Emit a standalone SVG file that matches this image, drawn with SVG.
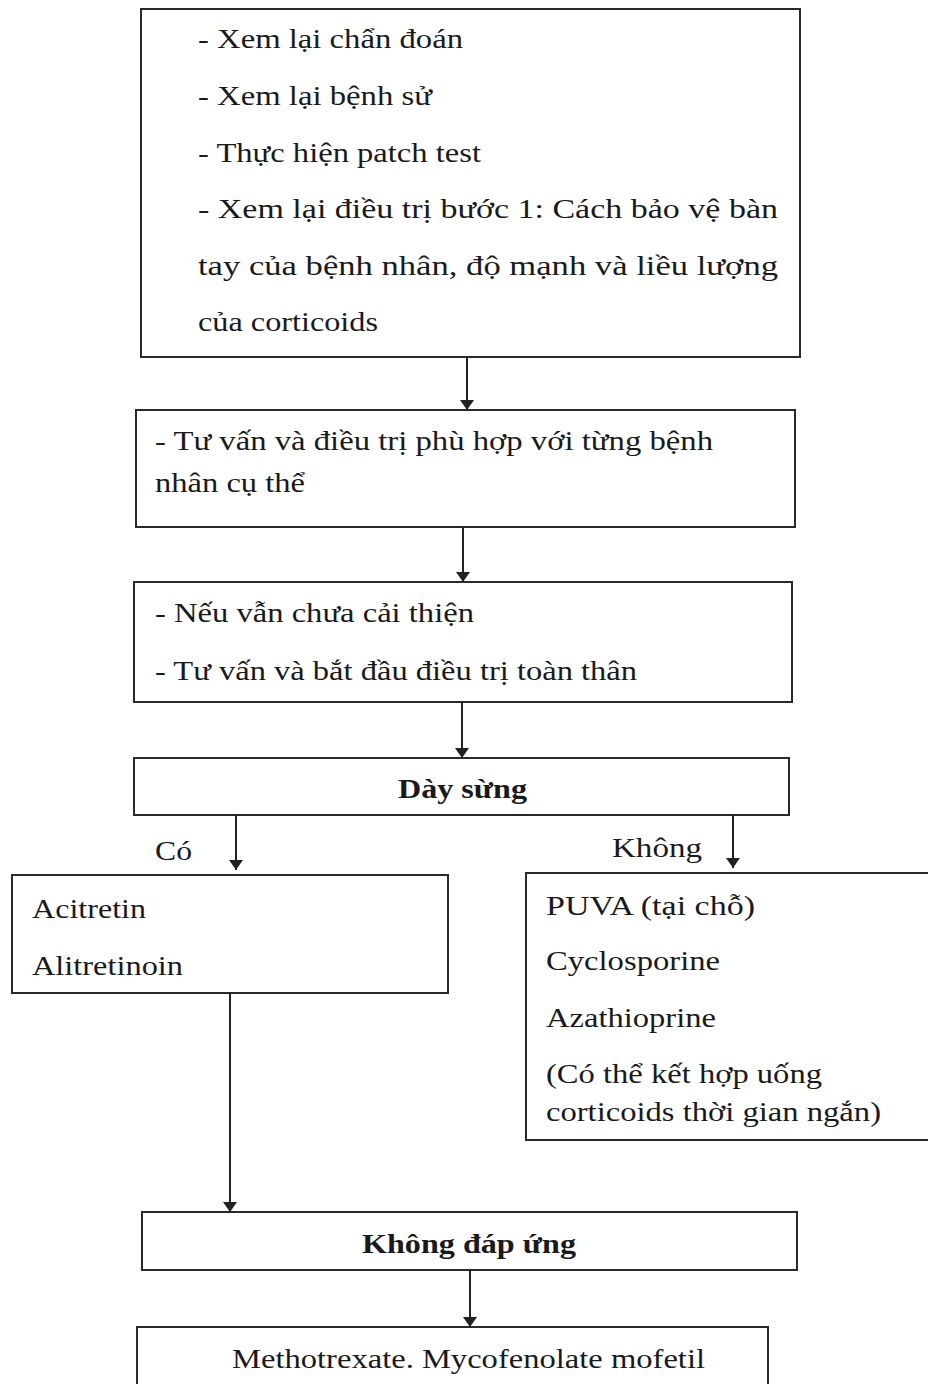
<svg xmlns="http://www.w3.org/2000/svg" width="928" height="1384" viewBox="0 0 928 1384">
<defs>
<marker id="ah" viewBox="0 0 10 14" markerWidth="10" markerHeight="14" refX="10" refY="7" orient="auto" markerUnits="userSpaceOnUse">
<path d="M0,0 L10,7 L0,14 Z" fill="#222"/>
</marker>
<style>
.box{fill:#fff;stroke:#2a2a2a;stroke-width:2}
.t{font-family:"Liberation Serif","Times New Roman",serif;font-size:27.5px;fill:#1a1a1a}
.b{font-weight:bold}
.c{stroke:#222;stroke-width:2;fill:none}
</style>
</defs>
<rect width="928" height="1384" fill="#fff"/>
<g id="n1">
<rect class="box" x="141" y="9" width="659" height="348"/>
<text class="t" x="198" y="48" textLength="265" lengthAdjust="spacingAndGlyphs">- Xem lại chẩn đoán</text>
<text class="t" x="198" y="105" textLength="234" lengthAdjust="spacingAndGlyphs">- Xem lại bệnh sử</text>
<text class="t" x="198" y="162" textLength="283" lengthAdjust="spacingAndGlyphs">- Thực hiện patch test</text>
<text class="t" x="198" y="218" textLength="580" lengthAdjust="spacingAndGlyphs">- Xem lại điều trị bước 1: Cách bảo vệ bàn</text>
<text class="t" x="198" y="275" textLength="580" lengthAdjust="spacingAndGlyphs">tay của bệnh nhân, độ mạnh và liều lượng</text>
<text class="t" x="198" y="331" textLength="180" lengthAdjust="spacingAndGlyphs">của corticoids</text>
</g>
<g id="n2">
<rect class="box" x="136" y="410" width="659" height="117"/>
<text class="t" x="155" y="450" textLength="558" lengthAdjust="spacingAndGlyphs">- Tư vấn và điều trị phù hợp với từng bệnh</text>
<text class="t" x="155" y="492" textLength="150" lengthAdjust="spacingAndGlyphs">nhân cụ thể</text>
</g>
<g id="n3">
<rect class="box" x="134" y="582" width="658" height="120"/>
<text class="t" x="155" y="622" textLength="319" lengthAdjust="spacingAndGlyphs">- Nếu vẫn chưa cải thiện</text>
<text class="t" x="155" y="680" textLength="482" lengthAdjust="spacingAndGlyphs">- Tư vấn và bắt đầu điều trị toàn thân</text>
</g>
<g id="n4">
<rect class="box" x="134" y="758" width="655" height="57"/>
<text class="t b" x="398" y="798" textLength="129" lengthAdjust="spacingAndGlyphs">Dày sừng</text>
</g>
<g id="n5">
<rect class="box" x="12" y="875" width="436" height="118"/>
<text class="t" x="32" y="918" textLength="114" lengthAdjust="spacingAndGlyphs">Acitretin</text>
<text class="t" x="32" y="975" textLength="151" lengthAdjust="spacingAndGlyphs">Alitretinoin</text>
</g>
<g id="n6">
<rect class="box" x="526" y="873" width="410" height="267"/>
<text class="t" x="546" y="915" textLength="209" lengthAdjust="spacingAndGlyphs">PUVA (tại chỗ)</text>
<text class="t" x="546" y="970" textLength="174" lengthAdjust="spacingAndGlyphs">Cyclosporine</text>
<text class="t" x="546" y="1027" textLength="170" lengthAdjust="spacingAndGlyphs">Azathioprine</text>
<text class="t" x="546" y="1083" textLength="276" lengthAdjust="spacingAndGlyphs">(Có thể kết hợp uống</text>
<text class="t" x="546" y="1121" textLength="335" lengthAdjust="spacingAndGlyphs">corticoids thời gian ngắn)</text>
</g>
<g id="n7">
<rect class="box" x="142" y="1212" width="655" height="58"/>
<text class="t b" x="362" y="1253" textLength="214" lengthAdjust="spacingAndGlyphs">Không đáp ứng</text>
</g>
<g id="n8">
<rect class="box" x="137" y="1327" width="631" height="70"/>
<text class="t" x="232" y="1368" textLength="473" lengthAdjust="spacingAndGlyphs">Methotrexate. Mycofenolate mofetil</text>
</g>
<g id="connectors">
<line class="c" x1="467" y1="357" x2="467" y2="410" marker-end="url(#ah)"/>
<line class="c" x1="463" y1="527" x2="463" y2="582" marker-end="url(#ah)"/>
<line class="c" x1="462" y1="702" x2="462" y2="758" marker-end="url(#ah)"/>
<line class="c" x1="236" y1="815" x2="236" y2="870" marker-end="url(#ah)"/>
<line class="c" x1="733" y1="815" x2="733" y2="868" marker-end="url(#ah)"/>
<line class="c" x1="230" y1="993" x2="230" y2="1212" marker-end="url(#ah)"/>
<line class="c" x1="470" y1="1270" x2="470" y2="1327" marker-end="url(#ah)"/>
<text class="t" x="155" y="860" textLength="37" lengthAdjust="spacingAndGlyphs">Có</text>
<text class="t" x="612" y="857" textLength="90" lengthAdjust="spacingAndGlyphs">Không</text>
</g>
</svg>
